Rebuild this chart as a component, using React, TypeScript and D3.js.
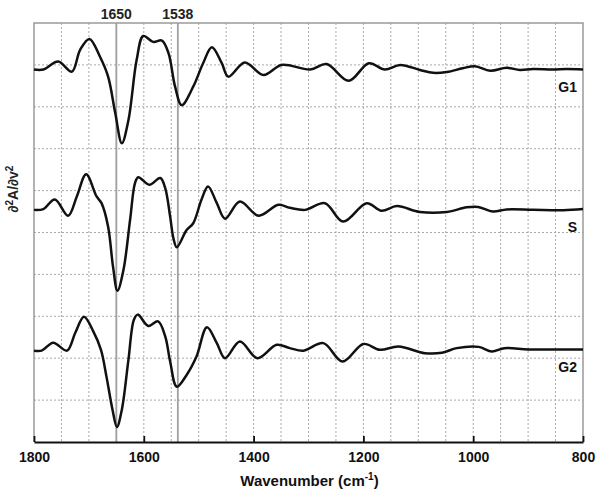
import React from "react";
import * as d3 from "d3";

// wavenumber (cm-1) / second-derivative values, relative to each trace baseline
const g1Wave = [1800, 1783, 1756, 1731, 1716, 1699, 1680, 1665, 1652, 1640, 1628, 1613, 1601, 1583, 1567, 1555, 1543, 1531, 1510, 1492, 1476, 1458, 1446, 1416, 1382, 1349, 1297, 1267, 1227, 1190, 1161, 1133, 1097, 1073, 1048, 1019, 997, 969, 939, 915, 891, 855, 830, 800];
const g1Vals = [0, 0, 0.19, -0.05, 0.47, 0.73, 0.31, -0.17, -1.04, -1.76, -1.21, 0.23, 0.8, 0.66, 0.69, 0.39, -0.41, -0.85, -0.41, 0.15, 0.53, 0.15, -0.17, 0.17, -0.13, 0.11, 0, 0.13, -0.27, 0.15, 0, 0.11, -0.01, -0.08, -0.06, 0.03, 0.08, -0.03, 0.04, -0.01, 0.01, 0, 0.01, 0];

const sWave = [1800, 1783, 1762, 1738, 1722, 1705, 1686, 1677, 1665, 1656, 1648, 1637, 1625, 1616, 1610, 1590, 1570, 1561, 1552, 1546, 1540, 1522, 1510, 1495, 1483, 1467, 1452, 1425, 1391, 1355, 1334, 1306, 1270, 1237, 1194, 1167, 1139, 1097, 1048, 1012, 991, 964, 939, 891, 836, 800];
const sVals = [0, 0.02, 0.25, -0.14, 0.32, 0.85, 0.32, 0.16, -0.4, -1.36, -1.93, -1.43, -0.24, 0.64, 0.78, 0.6, 0.76, 0.52, -0.16, -0.68, -0.89, -0.48, -0.32, 0.24, 0.56, 0.16, -0.21, 0.2, -0.14, 0.12, 0.05, 0, 0.16, -0.28, 0.16, -0.02, 0.09, -0.05, -0.05, 0.06, 0.07, -0.04, 0.01, 0, -0.01, 0.02];

const g2Wave = [1800, 1786, 1765, 1740, 1725, 1709, 1692, 1678, 1668, 1657, 1649, 1640, 1628, 1618, 1611, 1592, 1574, 1561, 1552, 1540, 1522, 1504, 1485, 1467, 1452, 1425, 1393, 1358, 1334, 1309, 1273, 1238, 1200, 1170, 1136, 1088, 1057, 1030, 990, 966, 943, 900, 850, 800];
const g2Vals = [-0.02, -0.02, 0.17, -0.02, 0.4, 0.79, 0.44, 0, -0.64, -1.43, -1.84, -1.43, -0.24, 0.72, 0.84, 0.57, 0.68, 0.32, -0.28, -0.88, -0.6, -0.16, 0.54, 0.16, -0.2, 0.2, -0.2, 0.12, 0.04, -0.02, 0.16, -0.28, 0.14, 0, 0.08, -0.08, -0.07, 0.04, 0.07, -0.04, 0.04, 0.01, 0.01, 0.01];

const seriesNames = ["G1", "S", "G2"];
const seriesOffsets = [8.89, 5.54, 2.2];
const markers = [1650, 1538];
const xTicks = [1800, 1600, 1400, 1200, 1000, 800];

const App = () => {
  const svgRef = React.useRef<SVGSVGElement>(null);
  const W = 601, H = 497;
  const margin = { left: 34, right: 18, top: 23, bottom: 55 };
  const width = W - margin.left - margin.right;
  const height = H - margin.top - margin.bottom;

  React.useEffect(() => {
    const x = d3.scaleLinear().domain([1800, 800]).range([0, width]);
    const y = d3.scaleLinear().domain([0, 10]).range([height, 0]);

    const svgEl = d3.select(svgRef.current);
    svgEl.selectAll("*").remove();
    const svg = svgEl.append("g").attr("transform", `translate(${margin.left},${margin.top})`);
    const font = "'Liberation Sans', Arial, sans-serif";

    // dotted grid
    svg.append("g").selectAll("line").data(d3.range(1750, 800, -50)).enter().append("line")
      .attr("x1", (d) => x(d)).attr("x2", (d) => x(d)).attr("y1", 0).attr("y2", height)
      .attr("stroke", "#a8a8a8").attr("stroke-width", 1).attr("stroke-dasharray", "2,2");
    svg.append("g").selectAll("line").data(d3.range(1, 10)).enter().append("line")
      .attr("x1", 0).attr("x2", width).attr("y1", (d) => y(d)).attr("y2", (d) => y(d))
      .attr("stroke", "#a8a8a8").attr("stroke-width", 1).attr("stroke-dasharray", "2,2");

    // frame
    svg.append("path")
      .attr("d", `M0,${height}V0H${width}V${height}`)
      .attr("fill", "none").attr("stroke", "#9a9a9a").attr("stroke-width", 1.5);

    // marker lines
    svg.selectAll(".marker").data(markers).enter().append("line")
      .attr("x1", (d) => x(d)).attr("x2", (d) => x(d)).attr("y1", 0).attr("y2", height)
      .attr("stroke", "#a0a0a0").attr("stroke-width", 1.8);
    svg.selectAll(".markerLabel").data(markers).enter().append("text")
      .attr("x", (d) => x(d)).attr("y", -4).attr("text-anchor", "middle")
      .attr("font-family", font).attr("font-size", 14).attr("font-weight", "bold").attr("fill", "#222")
      .text((d) => d);

    // bottom axis
    const xAxis = d3.axisBottom(x).tickValues(xTicks).tickFormat(d3.format("d"))
      .tickSizeInner(-6).tickSizeOuter(0).tickPadding(10);
    const xg = svg.append("g").attr("transform", `translate(0,${height})`).call(xAxis);
    xg.select(".domain").attr("stroke", "#111").attr("stroke-width", 1.8);
    xg.selectAll(".tick line").attr("stroke", "#111").attr("stroke-width", 1.8);
    xg.selectAll(".tick text").attr("font-family", font).attr("font-size", 14)
      .attr("font-weight", "bold").attr("fill", "#111");

    // left tick at the middle trace baseline
    svg.append("line").attr("x1", 0).attr("x2", 4).attr("y1", y(seriesOffsets[1])).attr("y2", y(seriesOffsets[1]))
      .attr("stroke", "#111").attr("stroke-width", 1.5);

    // traces
    const data = [
      { waves: g1Wave, vals: g1Vals },
      { waves: sWave, vals: sVals },
      { waves: g2Wave, vals: g2Vals },
    ];
    data.forEach((s, i) => {
      const pts = s.waves.map((w, j) => [w, s.vals[j] + seriesOffsets[i]] as [number, number]);
      const line = d3.line<[number, number]>()
        .x((d) => x(d[0])).y((d) => y(d[1]))
        .curve(d3.curveCatmullRom.alpha(0.5));
      svg.append("path").attr("d", line(pts)).attr("fill", "none")
        .attr("stroke", "#111").attr("stroke-width", 2.5).attr("stroke-linejoin", "round");
      svg.append("text").attr("x", width - 6).attr("y", y(seriesOffsets[i]) + 22)
        .attr("text-anchor", "end").attr("font-family", font).attr("font-size", 14)
        .attr("font-weight", "bold").attr("fill", "#111").text(seriesNames[i]);
    });

    // axis titles
    const xt = svg.append("text").attr("x", width / 2 + 1).attr("y", height + 44).attr("text-anchor", "middle")
      .attr("font-family", font).attr("font-size", 15).attr("font-weight", "bold").attr("fill", "#111");
    xt.append("tspan").text("Wavenumber (cm");
    xt.append("tspan").attr("dy", -6).attr("font-size", 10).text("-1");
    xt.append("tspan").attr("dy", 6).text(")");

    const yt = svgEl.append("text").attr("transform", `translate(18,189) rotate(-90)`).attr("text-anchor", "middle")
      .attr("font-family", font).attr("font-size", 14).attr("font-weight", "bold").attr("fill", "#222");
    yt.append("tspan").text("\u2202");
    yt.append("tspan").attr("dy", -5).attr("font-size", 10).text("2");
    yt.append("tspan").attr("dy", 5).text("A/\u2202v");
    yt.append("tspan").attr("dy", -5).attr("font-size", 10).text("2");
  }, []);

  return (
    <svg ref={svgRef} width={W} height={H}
      style={{ position: "absolute", left: 0, top: 0, background: "#fff" }} />
  );
};

export default App;
